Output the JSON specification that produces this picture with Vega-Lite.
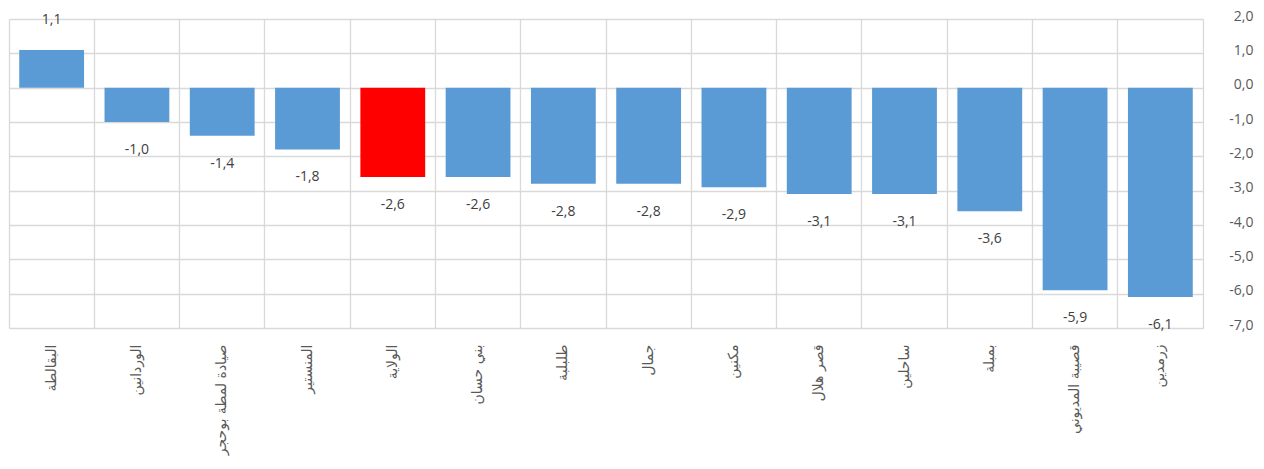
{
  "$schema": "https://vega.github.io/schema/vega-lite/v6.json",
  "width": 1194,
  "height": 309,
  "autosize": {"type": "none"},
  "padding": {"left": 9, "top": 19, "right": 61, "bottom": 141},
  "background": "white",
  "config": {
    "view": {"stroke": null},
    "locale": {"number": {"decimal": ",", "thousands": ".", "grouping": [3], "currency": ["", ""], "minus": "-"}}
  },
  "data": {
    "values": [
      {"name": "البقالطة", "v": 1.1},
      {"name": "الوردانين", "v": -1.0},
      {"name": "صيادة لمطة بوحجر", "v": -1.4},
      {"name": "المنستير", "v": -1.8},
      {"name": "الولاية", "v": -2.6},
      {"name": "بني حسان", "v": -2.6},
      {"name": "طلبلبة", "v": -2.8},
      {"name": "جمال", "v": -2.8},
      {"name": "مكنين", "v": -2.9},
      {"name": "قصر هلال", "v": -3.1},
      {"name": "ساحلين", "v": -3.1},
      {"name": "بمبلة", "v": -3.6},
      {"name": "قصيبة المديوني", "v": -5.9},
      {"name": "زرمدين", "v": -6.1}
    ]
  },
  "encoding": {
    "x": {
      "field": "name", "type": "nominal", "sort": null,
      "scale": {"paddingInner": 0, "paddingOuter": 0},
      "axis": {
        "title": null, "orient": "bottom", "labelAngle": -90, "labelAlign": "right", "labelBaseline": "middle",
        "labelFont": "DejaVu Sans", "labelFontSize": 14, "labelColor": "#595959", "labelPadding": 16,
        "ticks": false, "domain": false, "grid": true, "gridColor": "#d9d9d9", "gridWidth": 1.3,
        "bandPosition": 0, "labelBound": false, "labelOverlap": false
      }
    },
    "y": {
      "field": "v", "type": "quantitative",
      "scale": {"domain": [-7, 2], "nice": false},
      "axis": {
        "title": null, "orient": "right", "values": [2, 1, 0, -1, -2, -3, -4, -5, -6, -7], "format": ".1f",
        "labelFont": "Open Sans", "labelFontSize": 14, "labelColor": "#595959", "labelAlign": "right",
        "labelPadding": 50, "labelOffset": -3, "ticks": false, "tickSize": 0, "domain": true, "domainColor": "#d9d9d9", "domainWidth": 1.3,
        "grid": true, "gridColor": "#d9d9d9", "gridWidth": 1.3
      }
    }
  },
  "layer": [
    {
      "mark": {"type": "bar", "width": {"band": 0.76}},
      "encoding": {
        "color": {"condition": {"test": "datum.name === 'الولاية'", "value": "#ff0000"}, "value": "#5b9bd5"}
      }
    },
    {
      "transform": [{"filter": "datum.v >= 0"}],
      "mark": {"type": "text", "dy": -30, "baseline": "middle", "font": "Open Sans", "fontSize": 14, "color": "#404040"},
      "encoding": {"text": {"field": "v", "type": "quantitative", "format": ".1f"}}
    },
    {
      "transform": [{"filter": "datum.v < 0"}],
      "mark": {"type": "text", "dy": 28, "baseline": "middle", "font": "Open Sans", "fontSize": 14, "color": "#404040"},
      "encoding": {"text": {"field": "v", "type": "quantitative", "format": ".1f"}}
    }
  ]
}
